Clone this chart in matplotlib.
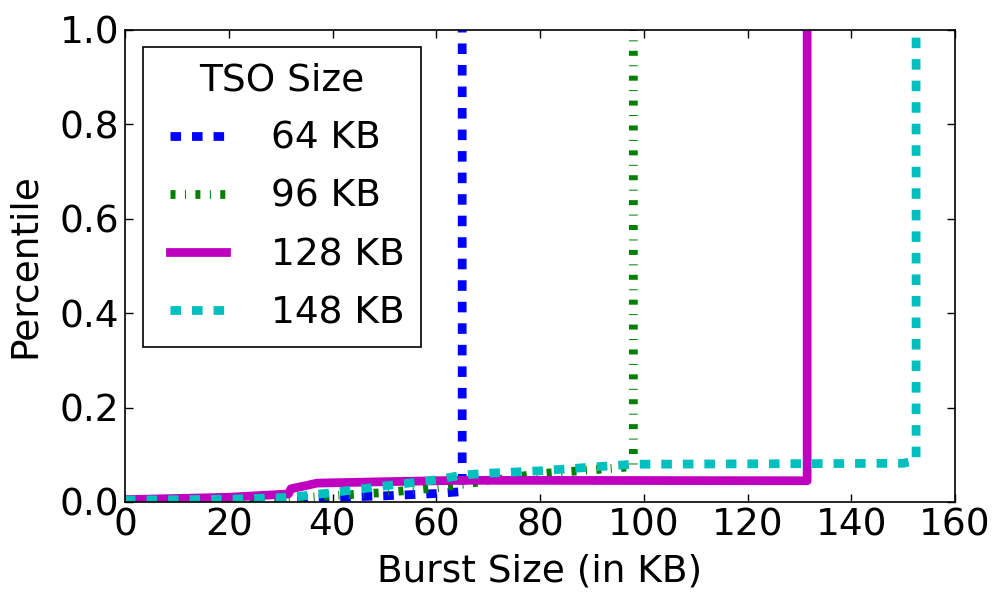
import matplotlib
matplotlib.use("Agg")
import matplotlib.pyplot as plt

# ---- data ----
x64 = [0, 20, 32, 40, 50, 60, 65, 65, 65]
y64 = [0.0, 0.003, 0.006, 0.01, 0.013, 0.018, 0.022, 0.03, 1.0]

x96 = [0, 30, 38, 50, 60, 70, 80, 90, 98, 98]
y96 = [0.0, 0.005, 0.012, 0.02, 0.03, 0.045, 0.06, 0.068, 0.075, 1.0]

x128 = [0, 20, 31.5, 32, 35, 37, 50, 65, 131.5, 131.5]
y128 = [0.005, 0.01, 0.017, 0.028, 0.035, 0.04, 0.043, 0.046, 0.045, 1.0]

x148 = [0, 20, 32, 40, 50, 60, 65, 70, 80, 90, 98, 150, 152.5, 152.5]
y148 = [0.004, 0.006, 0.01, 0.02, 0.034, 0.047, 0.057, 0.061, 0.066, 0.074, 0.08, 0.082, 0.088, 1.0]

labels = ["64 KB", "96 KB", "128 KB", "148 KB"]
xticks = [0, 20, 40, 60, 80, 100, 120, 140, 160]
yticks = [0.0, 0.2, 0.4, 0.6, 0.8, 1.0]

plt.rcParams["lines.scale_dashes"] = False
plt.rcParams["font.family"] = "DejaVu Sans"

FS = 27

fig = plt.figure(figsize=(10, 5.94), dpi=100)
ax = fig.add_axes([0.125, 1 - 502 / 594, 0.83, 472 / 594])

lw = 6.3
ax.plot(x64, y64, color="#0000ff", lw=lw, dashes=(7.6, 7.9),
        dash_capstyle="butt", label=labels[0])
ax.plot(x96, y96, color="#008000", lw=lw, dashes=(3.6, 6.8, 0.72, 6.8),
        dash_capstyle="butt", label=labels[1])
ax.plot(x128, y128, color="#bf00bf", lw=lw, solid_capstyle="projecting",
        solid_joinstyle="round", label=labels[2])
ax.plot(x148, y148, color="#00bfbf", lw=lw, dashes=(7.6, 7.9),
        dash_capstyle="butt", label=labels[3])

ax.set_xlim(0, 160)
ax.set_ylim(0, 1.0)
ax.set_xticks(xticks)
ax.set_yticks(yticks)
ax.set_yticklabels([f"{v:.1f}" for v in yticks])
ax.tick_params(direction="in", top=True, right=True, length=5.5, width=1,
               labelsize=FS, pad=4)
for s in ax.spines.values():
    s.set_linewidth(1.2)

ax.set_xlabel("Burst Size (in KB)", fontsize=FS, labelpad=7)
ax.set_ylabel("Percentile", fontsize=FS, labelpad=12)

leg = ax.legend(title="TSO Size", loc="upper left",
                bbox_to_anchor=(0.0217, 0.964), borderaxespad=0,
                fontsize=FS, title_fontsize=FS, handlelength=2.1,
                numpoints=2, fancybox=False, framealpha=1, edgecolor="black",
                labelspacing=0.59, borderpad=0.42, handletextpad=0.9)
leg.get_frame().set_linewidth(1.2)

fig.savefig("out.png", dpi=100, facecolor="white")
